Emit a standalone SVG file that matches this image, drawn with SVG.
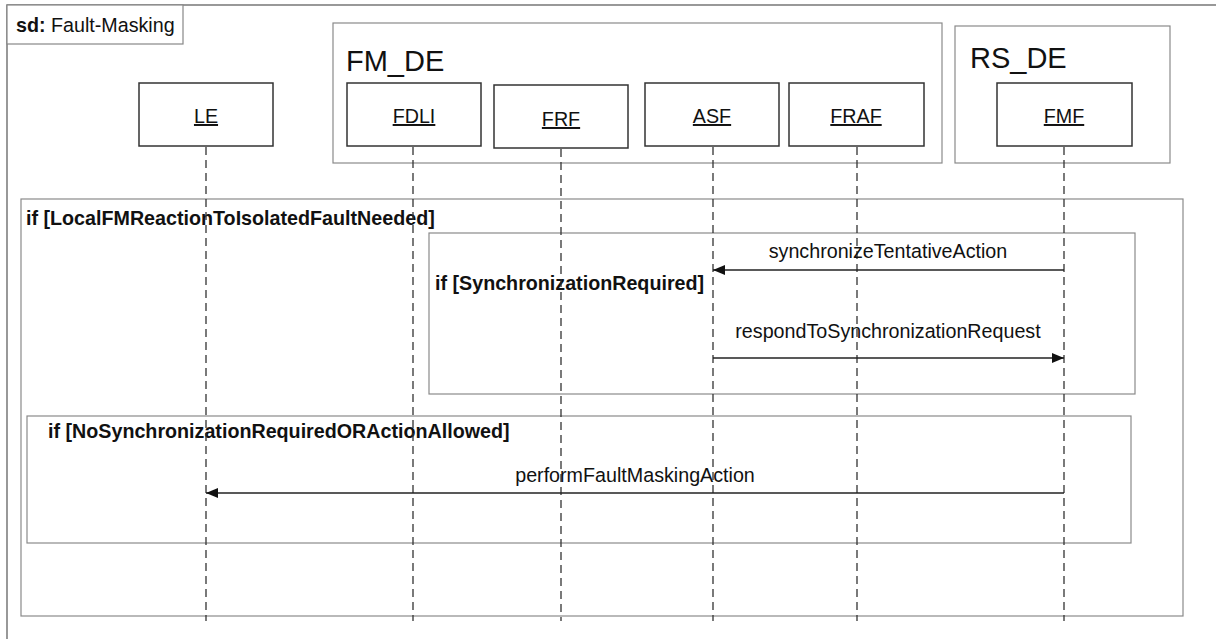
<svg xmlns="http://www.w3.org/2000/svg" width="1216" height="639" viewBox="0 0 1216 639">
  <defs>
    <marker id="arrowFilled" viewBox="0 0 12 10" refX="12" refY="5" markerWidth="12" markerHeight="10" markerUnits="userSpaceOnUse" orient="auto">
      <path d="M0,0 L12,5 L0,10 Z" fill="#111"/>
    </marker>
    <style>
      text { font-family: "Liberation Sans", Arial, sans-serif; fill: #111; }
      .frame { fill: none; stroke: #555; stroke-width: 1.2; }
      .tab { fill: #fff; stroke: #888; stroke-width: 1.2; }
      .fragment { fill: none; stroke: #8a8a8a; stroke-width: 1.2; }
      .container { fill: #fff; stroke: #8a8a8a; stroke-width: 1.2; }
      .lifebox { fill: #fff; stroke: #333; stroke-width: 1.5; }
      .lifeline { stroke: #333; stroke-width: 1.3; stroke-dasharray: 8 5; fill: none; }
      .msg { stroke: #222; stroke-width: 1.3; fill: none; marker-end: url(#arrowFilled); }
      .name { font-size: 19.7px; text-anchor: middle; text-decoration: underline; }
      .guard { font-size: 19.7px; font-weight: bold; }
      .label { font-size: 19.7px; text-anchor: middle; }
      .group-title { font-size: 29px; }
    </style>
  </defs>

  <rect width="1216" height="639" fill="#fff"/>

  <!-- diagram frame with name tab -->
  <g id="frame">
    <rect class="frame" x="7" y="5" width="1230" height="660"/>
    <rect class="tab" x="7" y="5" width="176" height="39"/>
    <text x="16" y="32" font-size="19.7"><tspan font-weight="bold">sd:</tspan> Fault-Masking</text>
  </g>

  <!-- deployment groups -->
  <g id="FM_DE">
    <rect class="container" x="333" y="23" width="609" height="140"/>
    <text class="group-title" x="346" y="71">FM_DE</text>
  </g>
  <g id="RS_DE">
    <rect class="container" x="955" y="26" width="215" height="137"/>
    <text class="group-title" x="970" y="68">RS_DE</text>
  </g>

  <!-- combined fragments -->
  <g id="fragment-local">
    <rect class="fragment" x="21" y="199" width="1162" height="417"/>
    <text class="guard" x="26" y="225">if [LocalFMReactionToIsolatedFaultNeeded]</text>
  </g>
  <g id="fragment-sync">
    <rect class="fragment" x="429" y="233" width="706" height="161"/>
    <text class="guard" x="435" y="290">if [SynchronizationRequired]</text>
  </g>
  <g id="fragment-action">
    <rect class="fragment" x="27" y="416" width="1104" height="127"/>
    <text class="guard" x="48" y="438">if [NoSynchronizationRequiredORActionAllowed]</text>
  </g>

  <!-- lifelines -->
  <g id="LE">
    <rect class="lifebox" x="139" y="83" width="134" height="63"/>
    <text class="name" x="206" y="123">LE</text>
    <line class="lifeline" x1="206" y1="147" x2="206" y2="621"/>
  </g>
  <g id="FDLI">
    <rect class="lifebox" x="347" y="83" width="134" height="63"/>
    <text class="name" x="414" y="123">FDLI</text>
    <line class="lifeline" x1="413" y1="147" x2="413" y2="621"/>
  </g>
  <g id="FRF">
    <rect class="lifebox" x="494" y="85" width="134" height="63"/>
    <text class="name" x="561" y="126">FRF</text>
    <line class="lifeline" x1="561" y1="149" x2="561" y2="621"/>
  </g>
  <g id="ASF">
    <rect class="lifebox" x="645" y="83" width="134" height="63"/>
    <text class="name" x="712" y="123">ASF</text>
    <line class="lifeline" x1="713" y1="147" x2="713" y2="621"/>
  </g>
  <g id="FRAF">
    <rect class="lifebox" x="789" y="83" width="135" height="63"/>
    <text class="name" x="856" y="123">FRAF</text>
    <line class="lifeline" x1="857" y1="147" x2="857" y2="621"/>
  </g>
  <g id="FMF">
    <rect class="lifebox" x="997" y="83" width="135" height="63"/>
    <text class="name" x="1064" y="123">FMF</text>
    <line class="lifeline" x1="1064" y1="147" x2="1064" y2="621"/>
  </g>

  <!-- messages -->
  <g id="connectors">
    <line class="msg" x1="1064" y1="270" x2="713" y2="270"/>
    <text class="label" x="888" y="258">synchronizeTentativeAction</text>
    <line class="msg" x1="713" y1="358" x2="1064" y2="358"/>
    <text class="label" x="888" y="338">respondToSynchronizationRequest</text>
    <line class="msg" x1="1064" y1="493" x2="206" y2="493"/>
    <text class="label" x="635" y="482">performFaultMaskingAction</text>
  </g>
</svg>
